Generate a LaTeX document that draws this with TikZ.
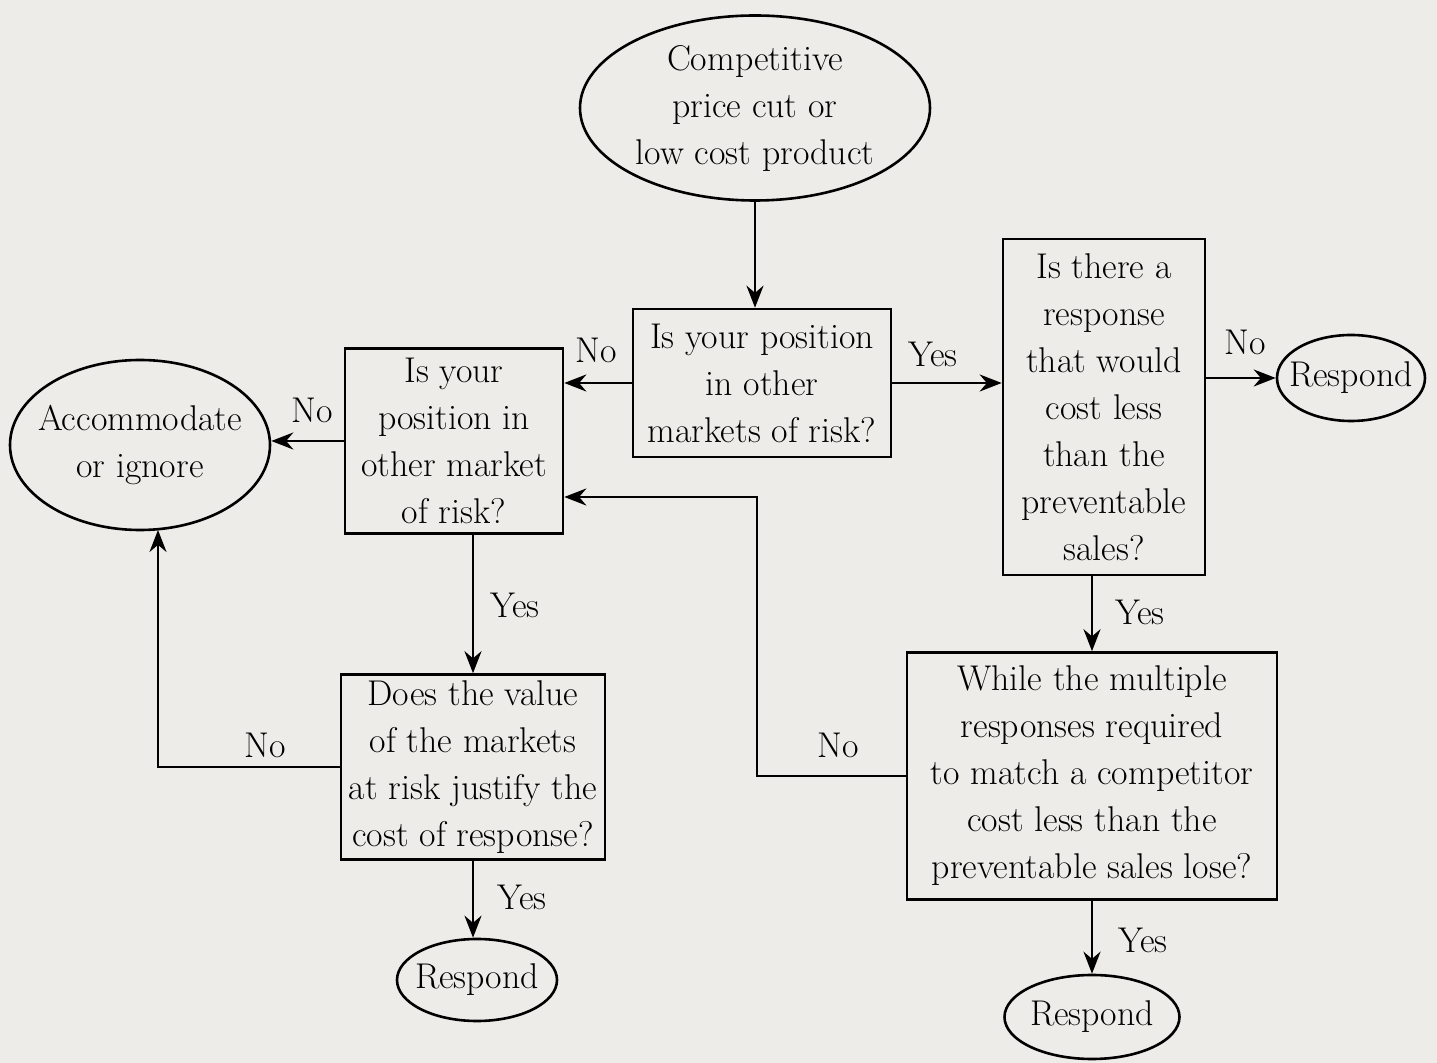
\documentclass[tikz,border=0pt]{standalone}
\usetikzlibrary{arrows.meta,shapes.geometric}
\definecolor{paper}{RGB}{237,236,232}

\begin{document}
\begin{tikzpicture}[x=0.5pt,y=-0.5pt,line width=1.3pt,
    font=\fontsize{17.9}{23.5}\selectfont,
    qbox/.style={draw,rectangle,align=center,inner sep=0pt},
    oval/.style={draw,ellipse,align=center,inner sep=0pt},
    arr/.style={-{Stealth[length=11pt,width=8.5pt]}},
    lbl/.style={inner sep=0pt}]
    \fill[paper] (0,0) rectangle (1437,1063);
    \useasboundingbox (0,0) rectangle (1437,1063);
    % boxes and ovals
    \node[oval,minimum width=175pt,minimum height=92.5pt,inner xsep=-3pt] (start) at (755,108) {Competitive\\price cut or\\low cost product};
    \node[qbox,minimum width=129pt,minimum height=74pt] (q1) at (762,383) {Is your position\\in other\\markets of risk?};
    \node[qbox,minimum width=109pt,minimum height=92.5pt] (q2) at (454,441) {Is your\\position in\\other market\\of risk?};
    \node[oval,minimum width=130pt,minimum height=85pt,inner xsep=-9.3pt] (acc) at (140,445) {Accommodate\\or ignore};
    \node[qbox,minimum width=132pt,minimum height=92.5pt] (q4) at (473,767) {Does the value\\of the markets\\at risk justify the\\cost of response?};
    \node[oval,minimum width=80pt,minimum height=41pt,inner xsep=-5.2pt] (resp1) at (477,980) {Respond};
    \node[qbox,minimum width=101pt,minimum height=168pt] (q3) at (1104,407) {Is there a\\response\\that would\\cost less\\than the\\preventable\\sales?};
    \node[oval,minimum width=74pt,minimum height=43pt,inner xsep=-7.3pt] (resp2) at (1351,378) {Respond};
    \node[qbox,minimum width=185pt,minimum height=123.5pt] (q5) at (1092,776) {While the multiple\\responses required\\to match a competitor\\cost less than the\\preventable sales lose?};
    \node[oval,minimum width=87.5pt,minimum height=42pt,inner xsep=-2.6pt] (resp3) at (1092,1017) {Respond};
    % connectors
    \coordinate (back) at (757,497);
    \coordinate (accin) at (158,530);
    \draw[arr] (start.south) -- (start.south |- q1.north);
    \draw[arr] (q1.west) -- (q1.west -| q2.east);
    \draw[arr] (q1.east) -- (q1.east -| q3.west);
    \draw[arr] (q2.west) -- (q2.west -| acc.east);
    \draw[arr] (q2.south -| q4.north) -- (q4.north);
    \draw[arr] (q4.west) -| (accin);
    \draw[arr] (q4.south) -- (q4.south |- resp1.north);
    \draw[arr] (q3.east |- resp2.west) -- (resp2.west);
    \draw[arr] (q3.south -| q5.north) -- (q5.north);
    \draw[arr] (q5.west) -| (back) -- (back -| q2.east);
    \draw[arr] (q5.south) -- (resp3.north);
    % yes/no labels
    \foreach \n/\x/\y/\t in {l1/596/350/No,l2/933/354/Yes,l3/312/410/No,l4/515/605/Yes,l5/265/745/No,%
                             l6/522/897/Yes,l7/1245/342/No,l8/1140/612/Yes,l9/838/745/No,l10/1143/940/Yes}
      \node[lbl] (\n) at (\x,\y) {\t};
\end{tikzpicture}
\end{document}
